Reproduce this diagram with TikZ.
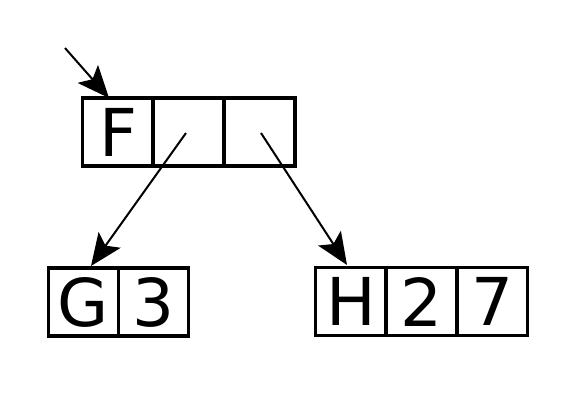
\documentclass[tikz,border=0pt]{standalone}
\usepackage{fontspec}
\setmainfont{DejaVu Sans}
\usetikzlibrary{arrows.meta}
\begin{document}
\begin{tikzpicture}[x=1pt,y=-1pt,
  cell/.style={draw, line width=3.5pt, minimum width=71pt, minimum height=68pt, inner sep=0pt, font=\fontsize{66}{66}\selectfont},
  link/.style={line width=2pt, -{Stealth[length=32pt,width=27pt,inset=7pt]}}]
\useasboundingbox (0,0) rectangle (567,416);
\node[cell] (f1) at (118,132) {F};
\node[cell] (f2) at (188.5,132) {};
\node[cell] (f3) at (259.5,132) {};
\node[cell, minimum width=70pt] (g1) at (83.5,302) {G};
\node[cell, minimum width=70pt] (g2) at (153.5,302) {3};
\node[cell] (h1) at (351,301.5) {H};
\node[cell] (h2) at (421.5,301.5) {2};
\node[cell] (h3) at (492,301.5) {7};
\coordinate (start) at (65,48);
\coordinate (fin) at (109,98);
\coordinate (gin) at (91,266);
\coordinate (hin) at (347,265);
\coordinate (s2) at (186,133);
\coordinate (s3) at (261,133);
\draw[link] (start) -- (fin);
\draw[link] (s2) -- (gin);
\draw[link] (s3) -- (hin);
\end{tikzpicture}
\end{document}
